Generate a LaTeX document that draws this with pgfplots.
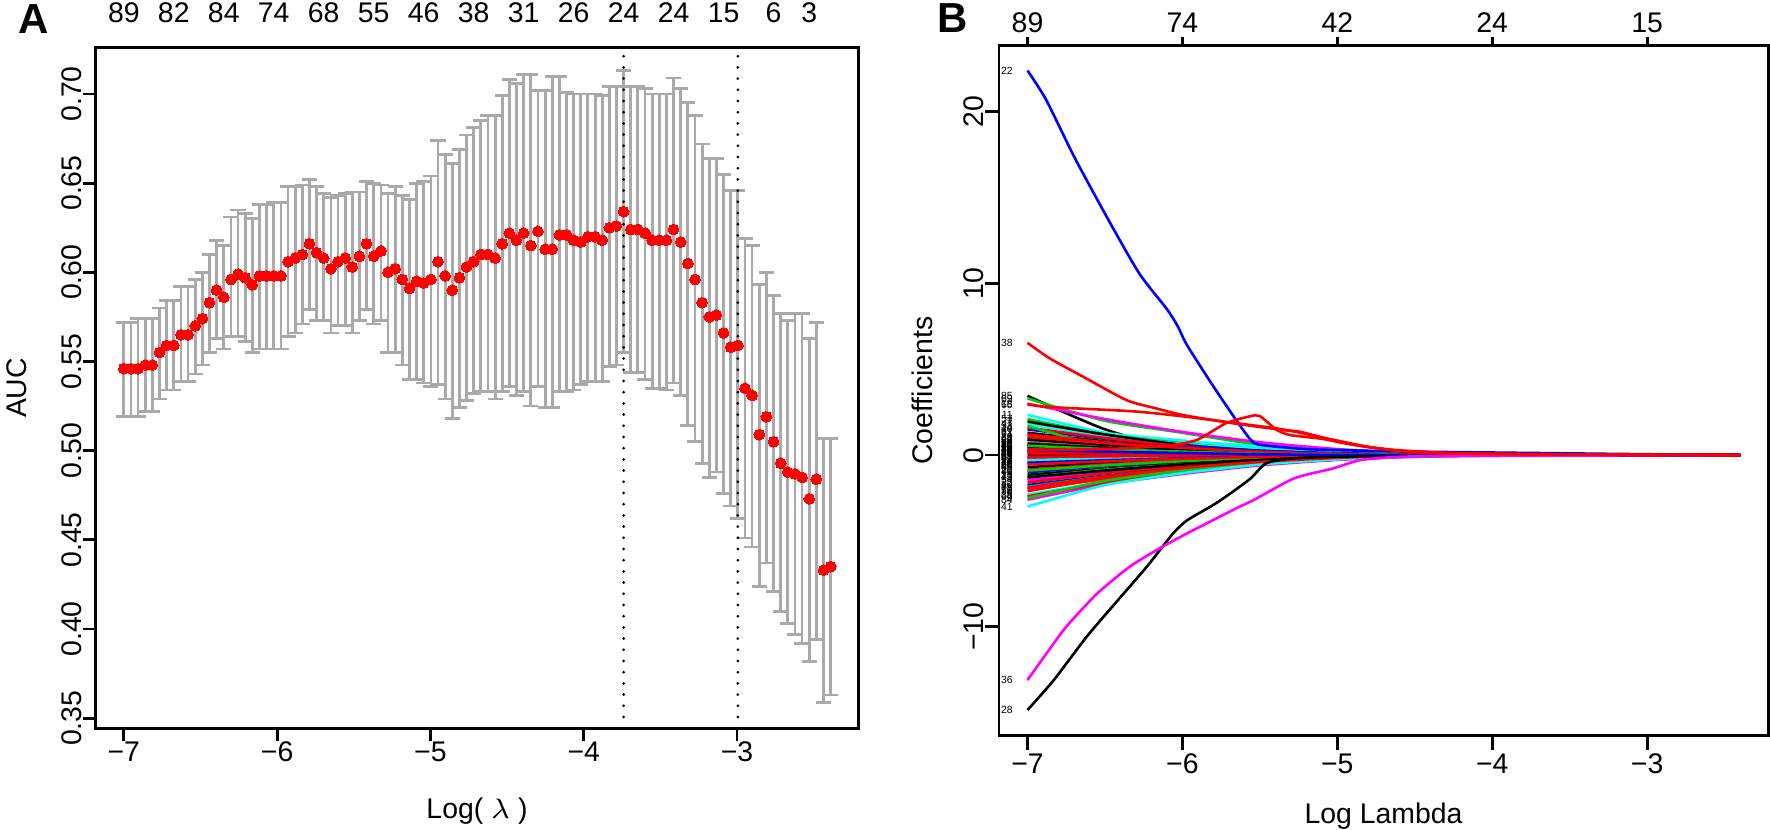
\documentclass[border=0pt]{standalone}
\usepackage{pgfplots}
\pgfplotsset{compat=1.18}
\usepackage{pgfplotstable}
\usepackage{fontspec}
\setmainfont{Liberation Sans}
\definecolor{errgray}{RGB}{169,169,169}
\definecolor{g3}{RGB}{0,205,0}
\definecolor{rcyan}{RGB}{0,255,255}
\definecolor{rmag}{RGB}{255,0,255}
\definecolor{rblue}{RGB}{0,0,255}
\definecolor{rred}{RGB}{255,0,0}
\newcommand\tk{\fontsize{7.1}{8.5}\selectfont}
\newcommand\lb{\fontsize{2.6}{3}\selectfont}

% cross-validated AUC: log lambda, mean, mean+sd, mean-sd
\pgfplotstableread{
x m up lo
-7.000 0.546 0.572 0.519
-6.953 0.546 0.572 0.519
-6.907 0.546 0.574 0.519
-6.860 0.548 0.574 0.522
-6.814 0.548 0.574 0.522
-6.767 0.555 0.580 0.529
-6.721 0.559 0.584 0.534
-6.674 0.559 0.584 0.534
-6.627 0.565 0.592 0.539
-6.581 0.565 0.592 0.539
-6.534 0.570 0.596 0.543
-6.488 0.574 0.600 0.548
-6.441 0.583 0.610 0.555
-6.395 0.590 0.618 0.563
-6.348 0.586 0.615 0.557
-6.301 0.596 0.631 0.564
-6.255 0.599 0.635 0.564
-6.208 0.597 0.633 0.561
-6.162 0.593 0.630 0.555
-6.115 0.598 0.638 0.557
-6.069 0.598 0.638 0.557
-6.022 0.598 0.639 0.557
-5.975 0.598 0.639 0.557
-5.929 0.606 0.648 0.564
-5.882 0.608 0.648 0.566
-5.836 0.610 0.649 0.571
-5.789 0.616 0.652 0.579
-5.743 0.611 0.648 0.573
-5.696 0.608 0.644 0.573
-5.649 0.602 0.642 0.566
-5.603 0.606 0.643 0.570
-5.556 0.608 0.644 0.570
-5.510 0.603 0.645 0.566
-5.463 0.609 0.645 0.573
-5.417 0.616 0.651 0.579
-5.370 0.609 0.650 0.571
-5.323 0.612 0.649 0.573
-5.277 0.600 0.644 0.555
-5.230 0.602 0.648 0.555
-5.184 0.596 0.643 0.548
-5.137 0.591 0.641 0.540
-5.091 0.595 0.650 0.540
-5.044 0.594 0.651 0.538
-4.997 0.596 0.654 0.536
-4.951 0.606 0.674 0.537
-4.904 0.598 0.666 0.529
-4.858 0.590 0.661 0.518
-4.811 0.597 0.669 0.524
-4.765 0.603 0.677 0.528
-4.718 0.606 0.681 0.532
-4.671 0.610 0.685 0.533
-4.625 0.610 0.688 0.533
-4.578 0.608 0.688 0.529
-4.532 0.616 0.699 0.533
-4.485 0.622 0.708 0.536
-4.439 0.618 0.706 0.531
-4.392 0.622 0.711 0.533
-4.345 0.615 0.711 0.525
-4.299 0.623 0.702 0.536
-4.252 0.613 0.702 0.524
-4.206 0.613 0.710 0.524
-4.159 0.621 0.710 0.533
-4.113 0.621 0.701 0.533
-4.066 0.618 0.700 0.534
-4.019 0.617 0.700 0.537
-3.973 0.620 0.700 0.539
-3.926 0.620 0.700 0.539
-3.880 0.618 0.699 0.539
-3.833 0.625 0.704 0.547
-3.787 0.626 0.704 0.548
-3.740 0.634 0.713 0.555
-3.693 0.624 0.704 0.544
-3.647 0.624 0.704 0.544
-3.600 0.622 0.703 0.540
-3.554 0.618 0.700 0.535
-3.507 0.618 0.700 0.535
-3.461 0.618 0.700 0.534
-3.414 0.624 0.709 0.538
-3.367 0.617 0.703 0.531
-3.321 0.605 0.695 0.514
-3.274 0.596 0.688 0.505
-3.228 0.583 0.672 0.493
-3.181 0.575 0.664 0.485
-3.135 0.576 0.664 0.488
-3.088 0.566 0.655 0.476
-3.041 0.558 0.646 0.469
-2.995 0.559 0.646 0.462
-2.948 0.535 0.619 0.451
-2.902 0.531 0.615 0.446
-2.855 0.509 0.593 0.424
-2.809 0.519 0.600 0.437
-2.762 0.505 0.587 0.421
-2.715 0.493 0.577 0.410
-2.669 0.488 0.573 0.403
-2.622 0.487 0.577 0.397
-2.576 0.485 0.577 0.392
-2.529 0.473 0.563 0.382
-2.483 0.484 0.572 0.394
-2.436 0.433 0.507 0.359
-2.389 0.435 0.507 0.363
}\cvauc

% path labels at the left end of panel B
\pgfplotstableread{
x y lab
-7 22.4 22
-7 6.54 38
-7 -13.1 36
-7 -14.85 28
-7 3.45 85
-7 3.3 69
-7 3.0 18
-7 2.95 65
-7 2.35 11
-7 2.1 57
-7 1.95 7
-7 1.8 47
-7 1.7 33
-7 1.6 14
-7 1.5 40
-7 1.3 61
-7 1.2 74
-7 1.05 29
-7 1.0 64
-7 0.9 2
-7 0.9 37
-7 0.8 59
-7 0.7 50
-7 0.65 25
-7 0.6 42
-7 0.6 34
-7 0.55 39
-7 0.5 26
-7 0.45 19
-7 0.35 80
-7 0.3 8
-7 0.3 71
-7 0.3 46
-7 0.25 3
-7 0.2 60
-7 0.15 16
-7 0.15 86
-7 0.05 44
-7 -0.05 31
-7 -0.1 58
-7 -0.15 52
-7 -0.25 62
-7 -0.3 23
-7 -0.4 27
-7 -0.45 70
-7 -0.5 66
-7 -0.55 88
-7 -0.7 49
-7 -0.85 20
-7 -0.9 87
-7 -1.0 76
-7 -1.15 13
-7 -1.3 45
-7 -1.3 73
-7 -1.45 54
-7 -1.6 32
-7 -1.75 10
-7 -1.85 81
-7 -1.9 78
-7 -2.0 72
-7 -2.1 56
-7 -2.3 35
-7 -2.4 68
-7 -2.5 9
-7 -2.6 84
-7 -3.0 41
}\pathlabels

\begin{document}
\begin{tikzpicture}
\useasboundingbox (0,0) rectangle (442.5pt,207.25pt);

% ---------------- panel A ----------------
\begin{axis}[
  at={(23.9pt,25.2pt)}, anchor=south west,
  scale only axis, width=190.8pt, height=170.15pt,
  xmin=-7.184, xmax=-2.206, ymin=0.3444, ymax=0.726,
  axis line style={line width=0.7pt},
  tick align=outside, tick pos=left,
  major tick length=3.25pt,
  every tick/.style={black, line width=0.7pt},
  xtick={-7,-6,-5,-4,-3},
  xticklabels={−7,−6,−5,−4,−3},
  ytick={0.35,0.40,0.45,0.50,0.55,0.60,0.65,0.70},
  yticklabels={0.35,0.40,0.45,0.50,0.55,0.60,0.65,0.70},
  xticklabel style={font=\tk, anchor=north, inner sep=0pt},
  yticklabel style={font=\tk, rotate=90, anchor=south, inner sep=0pt},
]
\addplot[draw=none, forget plot,
  error bars/.cd, y dir=both, y explicit,
  error bar style={draw=errgray, line width=0.7pt},
  error mark options={rotate=90, draw=errgray, line width=0.7pt, mark size=1.9pt}]
  table[x=x, y=m,
    y error plus expr={\thisrow{up}-\thisrow{m}},
    y error minus expr={\thisrow{m}-\thisrow{lo}}] {\cvauc};
\addplot[rred, only marks, mark=*, mark size=1.35pt,
  mark options={draw=rred, fill=rred, line width=0pt}] table[x=x, y=m] {\cvauc};
\addplot[black, line width=0.75pt, line cap=round, dash pattern=on 0pt off 2.8pt]
  coordinates {(-3.740,0.3444) (-3.740,0.726)};
\addplot[black, line width=0.75pt, line cap=round, dash pattern=on 0pt off 2.8pt]
  coordinates {(-2.995,0.3444) (-2.995,0.726)};
\end{axis}

\begin{axis}[
  at={(23.9pt,25.2pt)}, anchor=south west,
  scale only axis, width=190.8pt, height=170.15pt,
  xmin=-7.184, xmax=-2.206, ymin=0, ymax=1,
  axis x line*=top, axis y line=none,
  axis line style={draw=none},
  major tick length=0pt,
  xtick={-7.000,-6.674,-6.348,-6.022,-5.696,-5.370,-5.044,-4.718,-4.392,-4.066,-3.740,-3.414,-3.088,-2.762,-2.529},
  xticklabels={89,82,84,74,68,55,46,38,31,26,24,24,15,6,3},
  xticklabel style={font=\tk, anchor=south, inner sep=0pt, yshift=6pt},
]
\end{axis}

% ---------------- panel B ----------------
\begin{axis}[
  at={(249.75pt,23.3pt)}, anchor=south west,
  scale only axis, width=192.4pt, height=172.5pt,
  xmin=-7.184, xmax=-2.216, ymin=-16.35, ymax=23.84,
  axis line style={line width=0.7pt},
  tick align=outside, tick pos=left,
  major tick length=3.5pt,
  every tick/.style={black, line width=0.7pt},
  xtick={-7,-6,-5,-4,-3},
  xticklabels={−7,−6,−5,−4,−3},
  ytick={-10,0,10,20},
  yticklabels={−10,0,10,20},
  xticklabel style={font=\tk, anchor=north, inner sep=0pt, yshift=-0.8pt},
  yticklabel style={font=\tk, rotate=90, anchor=south, inner sep=0pt},
  every axis plot/.append style={line width=0.65pt, smooth, tension=0.4},
]
\addplot[black] coordinates {(-7,3.45)(-6.5,1.5)(-6,0.3)(-5.5,0.1)(-5,0.05)(-4.5,0.02)(-4,0.01)(-2.4,0)};
\addplot[g3] coordinates {(-7,3.3)(-6.5,2.0)(-6,1.3)(-5.5,0.6)(-5,0.25)(-4.5,0.08)(-4,0.02)(-2.4,0)};
\addplot[rmag] coordinates {(-7,3.0)(-6.5,2.1)(-6,1.35)(-5.5,0.75)(-5,0.35)(-4.5,0.12)(-4,0.04)(-2.4,0)};
\addplot[rcyan] coordinates {(-7,2.35)(-6.5,1.3)(-6,0.85)(-5.5,0.5)(-5,0.25)(-4.5,0.08)(-4,0.02)(-2.4,0)};
\addplot[g3] coordinates {(-7,2.1)(-6.5,1.2)(-6,0.7)(-5.5,0.35)(-5,0.15)(-4.5,0.05)(-4,0.01)(-2.4,0)};
\addplot[rcyan] coordinates {(-7,1.8)(-6.5,1.1)(-6,0.65)(-5.5,0.35)(-5,0.12)(-4.5,0.03)(-4,0)(-2.4,0)};
\addplot[black] coordinates {(-7,1.95)(-6.5,1.2)(-6,0.6)(-5.5,0.25)(-5,0.08)(-4.5,0.02)(-4,0)(-2.4,0)};
\addplot[rblue] coordinates {(-7,1.5)(-6.5,0.95)(-6,0.55)(-5.5,0.25)(-5,0.1)(-4.5,0.03)(-4,0.01)(-2.4,0)};
\addplot[rred] coordinates {(-7,1.6)(-6.5,1.0)(-6,0.5)(-5.5,0.2)(-5,0.06)(-4.5,0)(-4,0)(-2.4,0)};
\addplot[black] coordinates {(-7,1.3)(-6.5,0.8)(-6,0.4)(-5.5,0.15)(-5,0.05)(-4.5,0)(-4,0)(-2.4,0)};
\addplot[g3] coordinates {(-7,1.7)(-6.5,0.5)(-6,0.3)(-5.5,0.1)(-5,0.02)(-4.5,0)(-4,0)(-2.4,0)};
\addplot[rred] coordinates {(-7,1.2)(-6.5,0.75)(-6,0.4)(-5.5,0.18)(-5,0.06)(-4.5,0.01)(-4,0)(-2.4,0)};
\addplot[rblue] coordinates {(-7,1.0)(-6.5,0.7)(-6,0.45)(-5.5,0.25)(-5,0.1)(-4.5,0.03)(-4,0.01)(-2.4,0)};
\addplot[rred] coordinates {(-7,0.9)(-6.5,0.55)(-6,0.3)(-5.5,0.12)(-5,0.03)(-4.5,0)(-4,0)(-2.4,0)};
\addplot[rcyan] coordinates {(-7,0.8)(-6.5,0.5)(-6,0.3)(-5.5,0.15)(-5,0.05)(-4.5,0.01)(-4,0)(-2.4,0)};
\addplot[rred] coordinates {(-7,0.7)(-6.5,0.45)(-6,0.25)(-5.5,0.1)(-5,0.03)(-4.5,0)(-4,0)(-2.4,0)};
\addplot[rmag] coordinates {(-7,0.6)(-6.5,0.4)(-6,0.22)(-5.5,0.1)(-5,0.03)(-4.5,0)(-4,0)(-2.4,0)};
\addplot[rred] coordinates {(-7,0.5)(-6.5,0.32)(-6,0.18)(-5.5,0.08)(-5,0.02)(-4.5,0)(-4,0)(-2.4,0)};
\addplot[black] coordinates {(-7,0.45)(-6.5,0.3)(-6,0.15)(-5.5,0.05)(-5,0)(-4.5,0)(-4,0)(-2.4,0)};
\addplot[rred] coordinates {(-7,0.35)(-6.5,0.22)(-6,0.12)(-5.5,0.05)(-5,0.01)(-4.5,0)(-4,0)(-2.4,0)};
\addplot[g3] coordinates {(-7,0.25)(-6.5,0.15)(-6,0.08)(-5.5,0.03)(-5,0)(-4.5,0)(-4,0)(-2.4,0)};
\addplot[rblue] coordinates {(-7,0.15)(-6.5,0.1)(-6,0.06)(-5.5,0.02)(-5,0)(-4.5,0)(-4,0)(-2.4,0)};
\addplot[rred] coordinates {(-7,0.05)(-6.5,0.03)(-6,0.02)(-5.5,0.01)(-5,0)(-4.5,0)(-4,0)(-2.4,0)};
\addplot[black] coordinates {(-7,-0.05)(-6.5,-0.03)(-6,-0.02)(-5.5,-0.01)(-5,0)(-4.5,0)(-4,0)(-2.4,0)};
\addplot[rblue] coordinates {(-7,-0.15)(-6.5,-0.1)(-6,-0.05)(-5.5,-0.02)(-5,0)(-4.5,0)(-4,0)(-2.4,0)};
\addplot[rred] coordinates {(-7,-0.25)(-6.5,-0.16)(-6,-0.1)(-5.5,-0.05)(-5,-0.02)(-4.5,0)(-4,0)(-2.4,0)};
\addplot[g3] coordinates {(-7,-0.4)(-6.5,-0.25)(-6,-0.15)(-5.5,-0.07)(-5,-0.02)(-4.5,0)(-4,0)(-2.4,0)};
\addplot[rmag] coordinates {(-7,-0.5)(-6.5,-0.32)(-6,-0.2)(-5.5,-0.1)(-5,-0.04)(-4.5,-0.01)(-4,0)(-2.4,0)};
\addplot[black] coordinates {(-7,-0.7)(-6.5,-0.45)(-6,-0.28)(-5.5,-0.14)(-5,-0.05)(-4.5,-0.01)(-4,0)(-2.4,0)};
\addplot[rred] coordinates {(-7,-0.85)(-6.5,-0.55)(-6,-0.33)(-5.5,-0.17)(-5,-0.07)(-4.5,-0.02)(-4,0)(-2.4,0)};
\addplot[rblue] coordinates {(-7,-1.0)(-6.5,-0.65)(-6,-0.4)(-5.5,-0.2)(-5,-0.08)(-4.5,-0.02)(-4,0)(-2.4,0)};
\addplot[black] coordinates {(-7,-1.15)(-6.5,-0.8)(-6,-0.5)(-5.5,-0.25)(-5,-0.1)(-4.5,-0.03)(-4,0)(-2.4,0)};
\addplot[g3] coordinates {(-7,-1.3)(-6.5,-0.85)(-6,-0.55)(-5.5,-0.3)(-5,-0.12)(-4.5,-0.04)(-4,-0.01)(-2.4,0)};
\addplot[rmag] coordinates {(-7,-1.45)(-6.5,-1.0)(-6,-0.65)(-5.5,-0.35)(-5,-0.15)(-4.5,-0.05)(-4,-0.01)(-2.4,0)};
\addplot[rred] coordinates {(-7,-1.6)(-6.5,-1.05)(-6,-0.65)(-5.5,-0.35)(-5,-0.15)(-4.5,-0.05)(-4,-0.01)(-2.4,0)};
\addplot[rblue] coordinates {(-7,-1.75)(-6.5,-1.2)(-6,-0.75)(-5.5,-0.4)(-5,-0.15)(-4.5,-0.04)(-4,0)(-2.4,0)};
\addplot[g3] coordinates {(-7,-1.85)(-6.5,-1.25)(-6,-0.8)(-5.5,-0.45)(-5,-0.2)(-4.5,-0.06)(-4,-0.01)(-2.4,0)};
\addplot[rmag] coordinates {(-7,-2.0)(-6.5,-1.4)(-6,-0.9)(-5.5,-0.5)(-5,-0.22)(-4.5,-0.07)(-4,-0.02)(-2.4,0)};
\addplot[rred] coordinates {(-7,-2.1)(-6.5,-1.35)(-6,-0.85)(-5.5,-0.45)(-5,-0.2)(-4.5,-0.06)(-4,-0.01)(-2.4,0)};
\addplot[rcyan] coordinates {(-7,-2.3)(-6.5,-1.55)(-6,-1.0)(-5.5,-0.55)(-5,-0.25)(-4.5,-0.08)(-4,-0.02)(-2.4,0)};
\addplot[rmag] coordinates {(-7,-2.6)(-6.5,-1.7)(-6,-1.1)(-5.5,-0.6)(-5,-0.28)(-4.5,-0.1)(-4,-0.03)(-2.4,0)};
\addplot[rred] coordinates {(-7,-2.4)(-6.5,-1.6)(-6,-1.0)(-5.5,-0.55)(-5,-0.25)(-4.5,-0.08)(-4,-0.02)(-2.4,0)};
\addplot[g3] coordinates {(-7,-2.5)(-6.5,-1.5)(-6,-0.9)(-5.5,-0.45)(-5,-0.2)(-4.5,-0.06)(-4,-0.01)(-2.4,0)};
\addplot[rcyan] coordinates {(-7,-3.0)(-6.5,-1.75)(-6,-1.05)(-5.5,-0.55)(-5,-0.25)(-4.5,-0.08)(-4,-0.02)(-2.4,0)};
\addplot[black] coordinates {(-7,0.9)(-6.5,0.6)(-6,0.35)(-5.5,0.15)(-5,0.05)(-4.5,0.01)(-4,0)(-2.4,0)};
\addplot[rmag] coordinates {(-7,0.2)(-6.5,0.12)(-6,0.07)(-5.5,0.03)(-5,0)(-4.5,0)(-4,0)(-2.4,0)};
\addplot[rcyan] coordinates {(-7,-0.3)(-6.5,-0.2)(-6,-0.12)(-5.5,-0.05)(-5,0)(-4.5,0)(-4,0)(-2.4,0)};
\addplot[rblue] coordinates {(-7,0.6)(-6.5,0.35)(-6,0.2)(-5.5,0.1)(-5,0.04)(-4.5,0.01)(-4,0)(-2.4,0)};
\addplot[g3] coordinates {(-7,-0.9)(-6.5,-0.6)(-6,-0.35)(-5.5,-0.15)(-5,-0.05)(-4.5,0)(-4,0)(-2.4,0)};
\addplot[rred] coordinates {(-7,0.15)(-6.5,0.1)(-6,0.05)(-5.5,0.02)(-5,0)(-4.5,0)(-4,0)(-2.4,0)};
\addplot[rred] coordinates {(-7,0.3)(-6.5,0.2)(-6,0.11)(-5.5,0.05)(-5,0.01)(-4.5,0)(-4,0)(-2.4,0)};
\addplot[rred] coordinates {(-7,-0.1)(-6.5,-0.07)(-6,-0.04)(-5.5,-0.02)(-5,0)(-4.5,0)(-4,0)(-2.4,0)};
\addplot[rblue] coordinates {(-7,-0.45)(-6.5,-0.3)(-6,-0.18)(-5.5,-0.08)(-5,-0.02)(-4.5,0)(-4,0)(-2.4,0)};
\addplot[black] coordinates {(-7,0.65)(-6.5,0.42)(-6,0.25)(-5.5,0.12)(-5,0.04)(-4.5,0.01)(-4,0)(-2.4,0)};
\addplot[rred] coordinates {(-7,-0.55)(-6.5,-0.36)(-6,-0.22)(-5.5,-0.1)(-5,-0.03)(-4.5,0)(-4,0)(-2.4,0)};
\addplot[rred] coordinates {(-7,1.05)(-6.5,0.7)(-6,0.42)(-5.5,0.2)(-5,0.07)(-4.5,0.02)(-4,0)(-2.4,0)};
\addplot[g3] coordinates {(-7,0.55)(-6.5,0.35)(-6,0.2)(-5.5,0.08)(-5,0.02)(-4.5,0)(-4,0)(-2.4,0)};
\addplot[black] coordinates {(-7,-1.3)(-6.5,-0.9)(-6,-0.55)(-5.5,-0.28)(-5,-0.1)(-4.5,-0.03)(-4,0)(-2.4,0)};
\addplot[rred] coordinates {(-7,-1.9)(-6.5,-1.25)(-6,-0.75)(-5.5,-0.4)(-5,-0.16)(-4.5,-0.05)(-4,-0.01)(-2.4,0)};
\addplot[rblue] coordinates {(-7,0.3)(-6.5,0.2)(-6,0.12)(-5.5,0.05)(-5,0.01)(-4.5,0)(-4,0)(-2.4,0)};
% large paths
\addplot[rblue] coordinates {(-7,22.4)(-6.88,20.7)(-6.7,17.4)(-6.49,13.9)(-6.28,10.6)(-6.1,8.5)(-6.03,7.5)(-5.97,6.4)(-5.8,4.0)(-5.65,2.0)(-5.56,0.9)(-5.5,0.6)(-5.2,0.35)(-4.8,0.25)(-4.5,0.2)(-4,0.15)(-3.5,0.1)(-3,0.05)(-2.4,0)};
\addplot[black] coordinates {(-7,-14.85)(-6.83,-13.1)(-6.62,-10.6)(-6.45,-8.8)(-6.23,-6.5)(-6.06,-4.56)(-5.97,-3.8)(-5.8,-2.9)(-5.69,-2.23)(-5.56,-1.36)(-5.46,-0.48)(-5.3,-0.2)(-5,-0.1)(-4.5,-0.05)(-2.4,0)};
\addplot[rmag] coordinates {(-7,-13.1)(-6.877,-11.55)(-6.75,-10.0)(-6.55,-8.06)(-6.34,-6.5)(-6.17,-5.55)(-5.97,-4.56)(-5.63,-3.0)(-5.54,-2.62)(-5.28,-1.36)(-5.03,-0.78)(-4.85,-0.29)(-4.6,-0.1)(-4.2,-0.05)(-2.4,0)};
\addplot[rred] coordinates {(-7,6.54)(-6.856,5.63)(-6.64,4.56)(-6.36,3.2)(-6.17,2.72)(-5.995,2.33)(-5.67,1.85)(-5.35,1.46)(-5.24,1.36)(-5.03,0.87)(-4.81,0.48)(-4.6,0.25)(-4.2,0.1)(-3.5,0.04)(-2.4,0)};
\addplot[rred] coordinates {(-7,2.95)(-6.86,2.8)(-6.32,2.55)(-5.99,2.25)(-5.56,1.75)(-5.39,1.55)(-5.24,1.3)(-5.03,0.9)(-4.81,0.5)(-4.6,0.28)(-4.2,0.1)(-3.5,0.03)(-2.4,0)};
\addplot[rred] coordinates {(-7,0.3)(-6.5,0.35)(-6.1,0.55)(-5.91,0.87)(-5.72,1.85)(-5.56,2.27)(-5.5,2.27)(-5.39,1.46)(-5.3,1.16)(-5.1,0.95)(-4.9,0.6)(-4.6,0.25)(-4.2,0.08)(-2.4,0)};
\addplot[draw=none, nodes near coords, point meta=explicit symbolic,
  every node near coord/.style={anchor=east, font=\lb, inner sep=0pt, xshift=-3.4pt, text=black}]
  table[x=x, y=y, meta=lab] {\pathlabels};
\end{axis}

\begin{axis}[
  at={(249.75pt,23.3pt)}, anchor=south west,
  scale only axis, width=192.4pt, height=172.5pt,
  xmin=-7.184, xmax=-2.216, ymin=0, ymax=1,
  axis x line*=top, axis y line=none,
  axis line style={draw=none},
  tick align=outside, major tick length=2.25pt,
  every tick/.style={black, line width=0.7pt},
  xtick={-7,-6,-5,-4,-3},
  xticklabels={89,74,42,24,15},
  xticklabel style={font=\tk, anchor=south, inner sep=0pt, yshift=0.8pt},
]
\end{axis}

% titles and panel letters
\node[anchor=base west, font=\fontsize{10.5}{12}\selectfont\bfseries] at (1pt,199pt) {A};
\node[anchor=base west, font=\fontsize{10.5}{12}\selectfont\bfseries] at (230.75pt,199.1pt) {B};
\node[rotate=90, font=\tk] at (4.2pt,110.25pt) {AUC};
\node[rotate=90, font=\tk] at (230.6pt,109.6pt) {Coefficients};
\node[anchor=base, font=\tk] at (119.25pt,2.75pt) {Log( $\lambda$ )};
\node[anchor=base, font=\tk] at (345.9pt,1.4pt) {Log Lambda};
\end{tikzpicture}
\end{document}
